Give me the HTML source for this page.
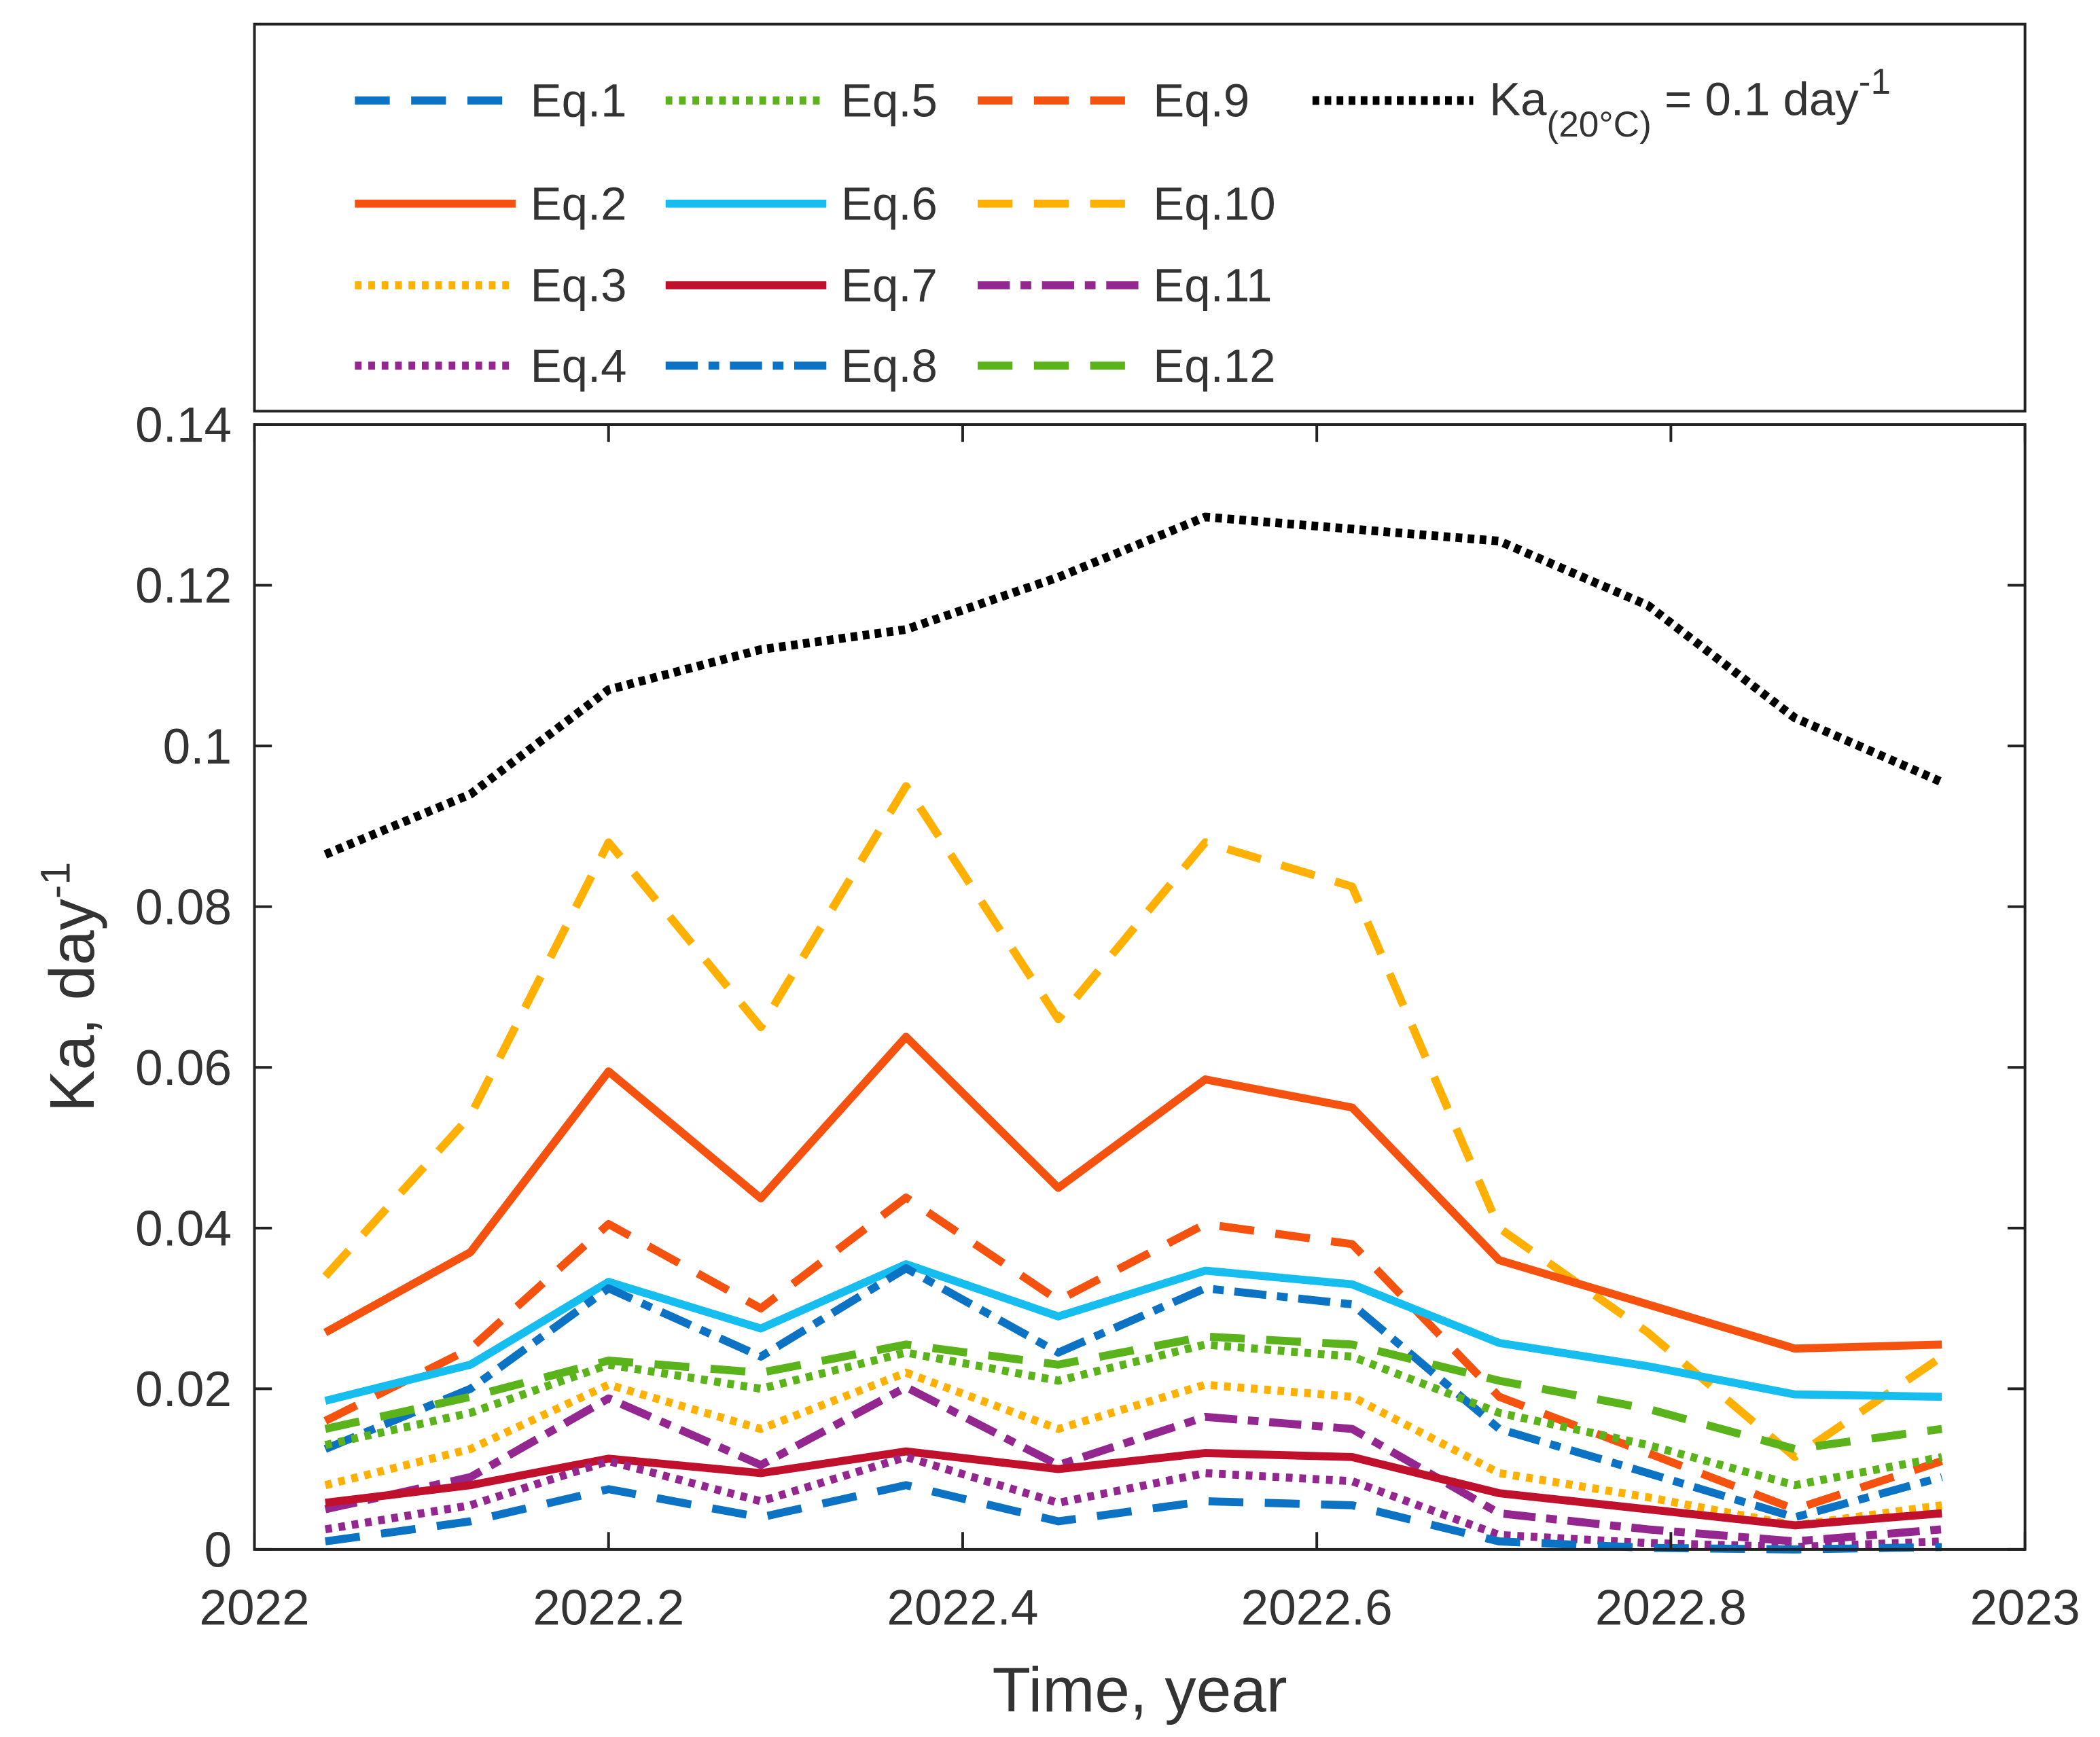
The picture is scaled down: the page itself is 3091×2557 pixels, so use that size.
<!DOCTYPE html>
<html><head><meta charset="utf-8"><style>html,body{margin:0;padding:0;background:#fff}svg{display:block}text{font-family:"Liberation Sans",Arial,sans-serif;fill:#333}</style></head>
<body>
<svg id="chart" width="3091" height="2557" viewBox="0 0 1568 1297" xmlns="http://www.w3.org/2000/svg">
<rect x="0" y="0" width="1568" height="1297" fill="#fff"/>
<g id="legend"><rect x="190" y="18" width="1322" height="289" fill="#fff" stroke="#222" stroke-width="2"/></g>
<g id="plot"></g>
<g id="axes"></g>
</svg>
<script>
const months=[0.040,0.122,0.200,0.286,0.368,0.454,0.537,0.620,0.703,0.787,0.870,0.953];
const xTicks=[0,0.2,0.4,0.6,0.8,1];
const xTickLabels=["2022","2022.2","2022.4","2022.6","2022.8","2023"];
const yTicks=[0,0.02,0.04,0.06,0.08,0.1,0.12,0.14];
const yTickLabels=["0","0.02","0.04","0.06","0.08","0.1","0.12","0.14"];
const ka20=[0.0865,0.094,0.107,0.112,0.1145,0.121,0.1285,0.127,0.1255,0.1175,0.1035,0.0955];
const eq1=[0.001,0.0035,0.0075,0.004,0.008,0.0035,0.006,0.0055,0.001,0.0002,0,0.0003];
const eq2=[0.027,0.037,0.0595,0.0437,0.0638,0.045,0.0585,0.055,0.036,0.0305,0.025,0.0255];
const eq3=[0.008,0.0125,0.0205,0.015,0.022,0.015,0.0205,0.019,0.0095,0.0065,0.003,0.0055];
const eq4=[0.0025,0.0055,0.011,0.006,0.0115,0.0058,0.0095,0.0085,0.0018,0.0008,0.0003,0.001];
const eq5=[0.013,0.017,0.023,0.020,0.0245,0.021,0.0255,0.024,0.017,0.013,0.008,0.0115];
const eq6=[0.0185,0.023,0.0333,0.0275,0.0355,0.029,0.0347,0.033,0.0257,0.0228,0.0193,0.019];
const eq7=[0.0058,0.008,0.0113,0.0095,0.0122,0.010,0.012,0.0115,0.007,0.005,0.003,0.0045];
const eq8=[0.0125,0.020,0.0325,0.024,0.035,0.0245,0.0325,0.0305,0.015,0.0095,0.004,0.009];
const eq9=[0.016,0.025,0.0405,0.030,0.0438,0.031,0.0405,0.038,0.019,0.012,0.005,0.011];
const eq10=[0.034,0.054,0.088,0.065,0.095,0.066,0.088,0.0825,0.040,0.027,0.0115,0.024];
const eq11=[0.005,0.009,0.0188,0.0105,0.0202,0.0105,0.0165,0.015,0.0045,0.0025,0.001,0.0025];
const eq12=[0.015,0.019,0.0235,0.022,0.0255,0.023,0.0265,0.0255,0.021,0.0175,0.0125,0.015];

const L=190,R=1512,T=317,B=1157;
const xs=v=>L+v*(R-L);
const ys=v=>B-v/0.14*(B-T);
const NS="http://www.w3.org/2000/svg";
const BLUE="#0b72c4",OR="#f5520f",YEL="#ffb000",PUR="#93278f",GRN="#5bb31b",CY="#16bef0",RED="#c0102c";
const DASH="26 16",DOT="5 5",DD="24 8 8 8";
const series=[
 {name:"ka-20c",d:ka20,c:"#000",da:"5 4",w:6.5},
 {name:"eq10",d:eq10,c:YEL,da:DASH,w:6},
 {name:"eq2",d:eq2,c:OR,da:"",w:6},
 {name:"eq9",d:eq9,c:OR,da:DASH,w:6},
 {name:"eq6",d:eq6,c:CY,da:"",w:6},
 {name:"eq8",d:eq8,c:BLUE,da:DD,w:6},
 {name:"eq12",d:eq12,c:GRN,da:DASH,w:6},
 {name:"eq5",d:eq5,c:GRN,da:DOT,w:6},
 {name:"eq3",d:eq3,c:YEL,da:DOT,w:6},
 {name:"eq11",d:eq11,c:PUR,da:DD,w:6},
 {name:"eq7",d:eq7,c:RED,da:"",w:6},
 {name:"eq4",d:eq4,c:PUR,da:DOT,w:6},
 {name:"eq1",d:eq1,c:BLUE,da:DASH,w:6}];
function mk(tag,attrs,parent){const e=document.createElementNS(NS,tag);for(const k in attrs)e.setAttribute(k,attrs[k]);parent.appendChild(e);return e;}
const plot=document.getElementById('plot'),axes=document.getElementById('axes'),leg=document.getElementById('legend');
series.forEach(s=>{
 const pts=s.d.map((v,i)=>xs(months[i]).toFixed(1)+","+ys(v).toFixed(1)).join(" ");
 const p=mk('polyline',{points:pts,fill:"none",stroke:s.c,"stroke-width":s.w,"stroke-dasharray":s.da,"stroke-linejoin":"round"},plot);
 
 
});
const frame=mk('rect',{x:L,y:T,width:R-L,height:B-T,fill:"none",stroke:"#222","stroke-width":2},axes);


yTicks.forEach((v,i)=>{
 const y=ys(v);
 mk('line',{x1:L,x2:L+13,y1:y,y2:y,stroke:"#222","stroke-width":2},axes);
 mk('line',{x1:R,x2:R-13,y1:y,y2:y,stroke:"#222","stroke-width":2},axes);
 const t=mk('text',{x:L-17,y:y+13,"text-anchor":"end","font-size":37},axes);
 t.textContent=yTickLabels[i];
 
 
});
xTicks.forEach((v,i)=>{
 const x=xs(v);
 mk('line',{x1:x,x2:x,y1:B,y2:B-13,stroke:"#222","stroke-width":2},axes);
 mk('line',{x1:x,x2:x,y1:T,y2:T+13,stroke:"#222","stroke-width":2},axes);
 const t=mk('text',{x:x,y:B+56,"text-anchor":"middle","font-size":37},axes);
 t.textContent=xTickLabels[i];
 
 
});
const xt=mk('text',{x:851,y:1278,"text-anchor":"middle","font-size":47},axes);
xt.textContent="Time, year";


const yt=mk('text',{transform:"translate(70,737) rotate(-90)","text-anchor":"middle","font-size":47},axes);
yt.innerHTML='Ka, day<tspan dy="-18" font-size="31">-1</tspan>';


const legItems=[
 ["Eq.1",BLUE,DASH,265,75],["Eq.2",OR,"",265,152],["Eq.3",YEL,DOT,265,213],["Eq.4",PUR,DOT,265,273],
 ["Eq.5",GRN,DOT,497,75],["Eq.6",CY,"",497,152],["Eq.7",RED,"",497,213],["Eq.8",BLUE,DD,497,273],
 ["Eq.9",OR,DASH,730,75],["Eq.10",YEL,DASH,730,152],["Eq.11",PUR,DD,730,213],["Eq.12",GRN,DASH,730,273]];
legItems.forEach(it=>{
 const g=mk('g',{},leg);
 
 
 mk('line',{x1:it[3],x2:it[3]+120,y1:it[4],y2:it[4],stroke:it[1],"stroke-width":6,"stroke-dasharray":it[2]},g);
 const t=mk('text',{x:it[3]+131,y:it[4]+12,"font-size":35},g);
 t.textContent=it[0];
});
const kg=mk('g',{},leg);


mk('line',{x1:980,x2:1100,y1:75,y2:75,stroke:"#000","stroke-width":6.5,"stroke-dasharray":"5 4"},kg);
const kt=mk('text',{x:1112,y:86,"font-size":35},kg);
kt.innerHTML='Ka<tspan dy="16" font-size="27">(20°C)</tspan><tspan dy="-16"> = 0.1 day</tspan><tspan dy="-16" font-size="27">-1</tspan>';
</script>
</body></html>
